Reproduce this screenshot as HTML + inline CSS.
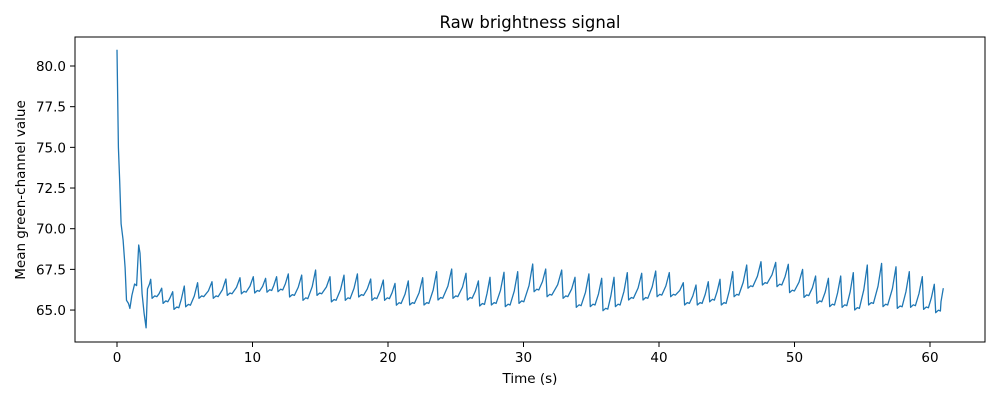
<!DOCTYPE html>
<html><head><meta charset="utf-8"><style>
body{margin:0;background:#fff}
svg text{font-family:"DejaVu Sans","Liberation Sans",sans-serif;fill:#000}
</style></head><body>
<svg id="chart" width="1000" height="400" xmlns="http://www.w3.org/2000/svg">
<rect width="1000" height="400" fill="#fff"/>
<text x="530" y="28" font-size="16.5" text-anchor="middle">Raw brightness signal</text>
<g id="xt"></g>
<g id="yt"></g>
<path id="line" fill="none" stroke="#1f77b4" stroke-width="1.3" stroke-linejoin="round"/>
<rect x="75" y="37" width="910" height="305" fill="none" stroke="#000" stroke-width="1"/>
<text x="530" y="383" font-size="13.5" text-anchor="middle">Time (s)</text>
<text x="0" y="0" font-size="13.5" text-anchor="middle" transform="translate(25,190) rotate(-90)">Mean green-channel value</text>
</svg>
<script>
const xTicks=[0,10,20,30,40,50,60];
const yTicks=[65,67.5,70,72.5,75,77.5,80];
const preTime=[0,0.1,0.2,0.3,0.45,0.6,0.7,0.85,0.95,1.1,1.3,1.45,1.6,1.7,1.85,2.0,2.15,2.25,2.4];
const preVal=[81.0,75.0,72.9,70.3,69.3,67.6,65.6,65.4,65.1,65.9,66.6,66.5,69.0,68.5,66.0,64.8,63.9,66.3,66.6];
const peakTime=[2.49,3.30,4.11,4.97,5.95,7.01,8.04,9.08,10.06,10.97,11.78,12.64,13.63,14.66,15.72,16.75,17.74,18.72,19.65,20.52,
21.50,22.56,23.59,24.70,25.76,26.67,27.53,28.56,29.57,30.68,31.64,32.82,33.80,34.83,35.77,36.68,37.66,38.72,39.76,40.76,41.79,
42.73,43.64,44.50,45.44,46.47,47.53,48.61,49.54,50.60,51.56,52.50,53.41,54.34,55.37,56.43,57.49,58.47,59.43,60.32];
const peakVal=[66.89,66.34,66.13,66.48,66.68,66.74,66.91,66.99,67.05,66.95,67.05,67.22,67.15,67.46,67.05,67.15,67.22,66.91,66.85,66.64,
66.79,66.99,67.36,67.52,67.26,66.79,67.01,67.32,67.36,67.83,67.52,67.46,67.01,67.22,66.95,67.01,67.30,67.26,67.40,67.30,66.68,
66.54,66.74,66.89,67.36,67.77,67.97,67.93,67.81,67.50,67.09,66.95,67.09,67.30,67.77,67.87,67.66,67.36,67.05,66.58];
const troughVal=[65.72,65.41,65.04,65.2,65.72,65.72,65.9,66.0,66.05,66.1,66.13,65.8,65.6,65.9,65.5,65.6,65.8,65.6,65.6,65.3,
65.31,65.31,65.62,65.72,65.62,65.25,65.31,65.21,65.41,66.13,65.82,65.72,65.17,65.21,64.96,65.21,65.62,65.62,65.82,65.82,65.31,
65.31,65.51,65.31,65.82,66.34,66.54,66.44,66.07,65.78,65.41,65.21,65.17,65.0,65.31,65.21,65.10,65.17,65.04,64.84];
const endTime=60.98, endVal=66.34;

const X=t=>117+t*13.55;
const Y=v=>66+(80-v)*16.27;
const NS='http://www.w3.org/2000/svg';
const xt=document.getElementById('xt'), yt=document.getElementById('yt');
xTicks.forEach(t=>{
  const l=document.createElementNS(NS,'line');
  l.setAttribute('x1',X(t));l.setAttribute('x2',X(t));l.setAttribute('y1',342);l.setAttribute('y2',347);l.setAttribute('stroke','#000');
  
  
  xt.appendChild(l);
  const s=document.createElementNS(NS,'text');
  s.setAttribute('x',X(t));s.setAttribute('y',362);s.setAttribute('font-size','13.5');s.setAttribute('text-anchor','middle');
  s.textContent=t;
  
  
  xt.appendChild(s);
});
yTicks.forEach(v=>{
  const l=document.createElementNS(NS,'line');
  l.setAttribute('x1',70);l.setAttribute('x2',75);l.setAttribute('y1',Y(v));l.setAttribute('y2',Y(v));l.setAttribute('stroke','#000');
  
  
  yt.appendChild(l);
  const s=document.createElementNS(NS,'text');
  s.setAttribute('x',66);s.setAttribute('y',Y(v)+5);s.setAttribute('font-size','13.5');s.setAttribute('text-anchor','end');
  s.textContent=v.toFixed(1);
  
  
  yt.appendChild(s);
});
const pts=[];
preTime.forEach((t,i)=>pts.push([t,preVal[i]]));
for(let i=0;i<peakTime.length;i++){
  const tp=peakTime[i], tv=troughVal[i];
  const nt=i+1<peakTime.length?peakTime[i+1]:endTime;
  const nv=i+1<peakTime.length?peakVal[i+1]:endVal;
  pts.push([tp,peakVal[i]]);
  pts.push([tp+0.1,tv]);
  pts.push([tp+0.3,tv+0.15]);
  pts.push([tp+0.45,tv+0.1]);
  pts.push([tp+(nt-tp)*0.75,tv+(nv-tv)*0.45]);
}
pts.push([endTime,endVal]);
document.getElementById('line').setAttribute('d',pts.map((p,i)=>(i?'L':'M')+X(p[0]).toFixed(1)+','+Y(p[1]).toFixed(1)).join(''));
</script>
</body></html>
